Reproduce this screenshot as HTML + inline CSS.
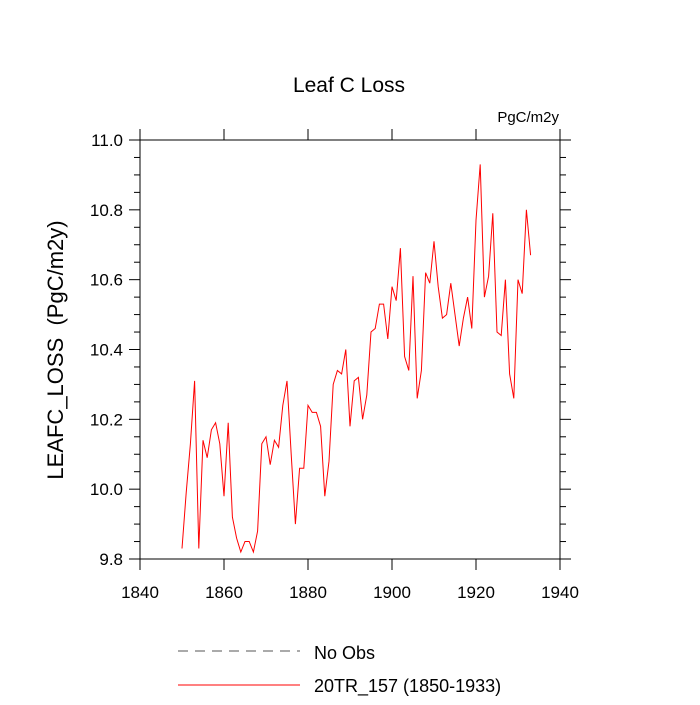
<!DOCTYPE html>
<html><head><meta charset="utf-8"><style>body{margin:0;background:#fff}svg{font-family:"Liberation Sans",sans-serif}</style></head>
<body>
<svg id="c" width="700" height="700"></svg>
<script>
const years=[];for(let y=1850;y<=1933;y++)years.push(y);
const values=[9.83,9.99,10.13,10.31,9.83,10.14,10.09,10.17,10.19,10.13,9.98,10.19,9.92,9.86,9.82,9.85,9.85,9.82,9.88,10.13,10.15,10.07,10.14,10.12,10.24,10.31,10.10,9.90,10.06,10.06,10.24,10.22,10.22,10.18,9.98,10.08,10.30,10.34,10.33,10.40,10.18,10.31,10.32,10.20,10.27,10.45,10.46,10.53,10.53,10.43,10.58,10.54,10.69,10.38,10.34,10.61,10.26,10.34,10.62,10.59,10.71,10.58,10.49,10.50,10.59,10.50,10.41,10.49,10.55,10.46,10.77,10.93,10.55,10.61,10.79,10.45,10.44,10.60,10.33,10.26,10.60,10.56,10.80,10.67];
const xTicks=[1840,1860,1880,1900,1920,1940];
const yTicks=[9.8,10.0,10.2,10.4,10.6,10.8,11.0];
const svg=document.getElementById('c');const NS='http://www.w3.org/2000/svg';
const L=140,R=560,T=140,B=559;
const sx=v=>L+(v-1840)/100*(R-L), sy=v=>B-(v-9.8)/1.2*(B-T);
function el(t,a,p){const e=document.createElementNS(NS,t);for(const k in a)e.setAttribute(k,a[k]);(p||svg).appendChild(e);return e;}
function txt(s,a){const e=el('text',a);e.textContent=s;return e;}
const frame=el('rect',{x:L,y:T,width:R-L,height:B-T,fill:'none',stroke:'#000','stroke-width':1});


xTicks.forEach(v=>{const x=sx(v);
 el('line',{x1:x,x2:x,y1:B,y2:B+11,stroke:'#000'});el('line',{x1:x,x2:x,y1:T,y2:T-11,stroke:'#000'});
 const t=txt(v,{x:x,y:B+39,'text-anchor':'middle','font-size':17});
 
 });
for(let v=9.8;v<=11.0001;v+=0.05){const y=sy(v);const major=Math.abs((v*5)-Math.round(v*5))<1e-6;const len=major?11:6;
 el('line',{x1:L-len,x2:L,y1:y,y2:y,stroke:'#000'});el('line',{x1:R,x2:R+len,y1:y,y2:y,stroke:'#000'});}
yTicks.forEach(v=>{const t=txt(v.toFixed(1),{x:L-17,y:sy(v)+6,'text-anchor':'end','font-size':17});
 
 });
const pts=years.map((y,i)=>sx(y).toFixed(1)+','+sy(values[i]).toFixed(1)).join(' ');
const line=el('polyline',{points:pts,fill:'none',stroke:'#ff0000','stroke-width':1});


</script>
<svg width="700" height="700" style="position:absolute;left:0;top:0">
<text x="349" y="92" text-anchor="middle" font-size="21">Leaf C Loss</text>
<text x="559" y="122" text-anchor="end" font-size="15">PgC/m2y</text>
<text transform="translate(63,350) rotate(-90)" text-anchor="middle" font-size="22" style="white-space:pre">LEAFC_LOSS  (PgC/m2y)</text>
<line x1="178" x2="300" y1="651" y2="651" stroke="#555" stroke-dasharray="10,7"/>
<text x="314" y="659" font-size="18">No Obs</text>
<line x1="178" x2="300" y1="685" y2="685" stroke="#ff0000"/>
<text x="314" y="692" font-size="18">20TR_157 (1850-1933)</text>
</svg>
</body></html>
